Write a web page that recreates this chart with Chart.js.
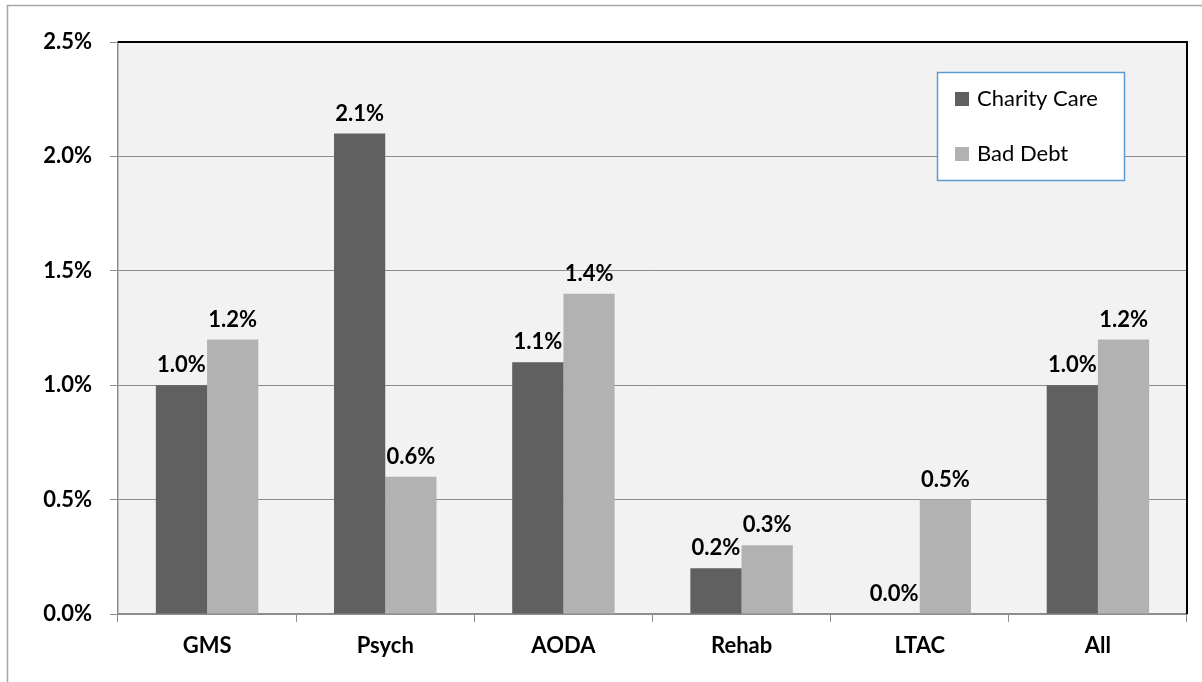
<!DOCTYPE html>
<html>
<head>
<meta charset="utf-8">
<script src="https://cdn.jsdelivr.net/npm/chart.js@4"></script>
<style>
  html, body { margin: 0; padding: 0; background: #fff; }
  #wrap { width: 1202px; height: 682px; }
</style>
</head>
<body>
<div id="wrap"><canvas id="grafico" width="1202" height="682"></canvas></div>
<script>
'use strict'

const categories = ['GMS', 'Psych', 'AODA', 'Rehab', 'LTAC', 'All'];
const charityCare = [1.0, 2.1, 1.1, 0.2, 0.0, 1.0];
const badDebt = [1.2, 0.6, 1.4, 0.3, 0.5, 1.2];
const yMin = 0, yMax = 2.5, yStep = 0.5;

const FONT = 'Lato, "Open Sans", sans-serif';

// frame, plot background and right border
const marco = {
  id: 'marco',
  beforeDraw(chart) {
    const {ctx, chartArea: a} = chart;
    ctx.save();
    ctx.strokeStyle = '#a6a6a6';
    ctx.lineWidth = 1.5;
    ctx.strokeRect(7.5, 5.5, 1400, 900);
    ctx.fillStyle = '#f2f2f2';
    ctx.fillRect(a.left, a.top, a.right - a.left, a.bottom - a.top);
    ctx.restore();
  },
  afterDraw(chart) {
    const {ctx, chartArea: a} = chart;
    ctx.save();
    ctx.strokeStyle = '#000';
    ctx.lineWidth = 2;
    ctx.beginPath();
    ctx.moveTo(a.left, a.top);
    ctx.lineTo(a.right, a.top);
    ctx.lineTo(a.right, a.bottom);
    ctx.stroke();
    ctx.restore();
  }
};

// value labels above bars
const etiquetas = {
  id: 'etiquetas',
  afterDatasetsDraw(chart) {
    const ctx = chart.ctx;
    ctx.save();
    ctx.font = 'bold 22px ' + FONT;
    ctx.fillStyle = '#000';
    ctx.textAlign = 'center';
    ctx.textBaseline = 'bottom';
    chart.data.datasets.forEach((ds, i) => {
      chart.getDatasetMeta(i).data.forEach((bar, j) => {
        ctx.fillText(ds.data[j].toFixed(1) + '%', bar.x, bar.y - 9);
      });
    });
    ctx.restore();
  }
};

// legend box inside the plot
const leyenda = {
  id: 'leyenda',
  afterDraw(chart) {
    const ctx = chart.ctx;
    const x = 937.5, y = 72.5, w = 187, h = 108;
    ctx.save();
    ctx.fillStyle = '#fff';
    ctx.fillRect(x, y, w, h);
    ctx.strokeStyle = '#5b9bd5';
    ctx.lineWidth = 1.5;
    ctx.strokeRect(x, y, w, h);
    ctx.font = '22px ' + FONT;
    ctx.textBaseline = 'middle';
    chart.data.datasets.forEach((ds, i) => {
      const cy = 99 + i * 55;
      ctx.fillStyle = ds.backgroundColor;
      ctx.fillRect(955, cy - 7, 14, 14);
      ctx.fillStyle = '#000';
      ctx.fillText(ds.label, 977, cy);
    });
    ctx.restore();
  }
};

const data = {
  labels: categories,
  datasets: [{
    label: 'Charity Care',
    data: charityCare,
    backgroundColor: '#606060'
  },
  {
    label: 'Bad Debt',
    data: badDebt,
    backgroundColor: '#b2b2b2'
  }]
};

const config = {
  type: 'bar',
  data: data,
  options: {
    responsive: false,
    animation: false,
    devicePixelRatio: 1,
    layout: { padding: { left: 0, top: 42, right: 15, bottom: 0 } },
    datasets: { bar: { categoryPercentage: 0.575, barPercentage: 1 } },
    plugins: { legend: { display: false }, tooltip: { enabled: false } },
    scales: {
      x: {
        afterFit(s) { s.height = 68; },
        grid: { display: true, drawOnChartArea: false, drawTicks: true, tickLength: 8, color: '#8c8c8c', offset: true },
        border: { color: '#8c8c8c', width: 1.5 },
        ticks: { color: '#000', padding: 11, font: { family: FONT, size: 22, weight: 'bold' } }
      },
      y: {
        min: yMin,
        max: yMax,
        afterFit(s) { s.width = 118; },
        grid: { color: '#8c8c8c', tickLength: 8, lineWidth: 1 },
        border: { color: '#8c8c8c', width: 1.5 },
        ticks: {
          stepSize: yStep,
          color: '#000',
          padding: 18,
          font: { family: FONT, size: 22, weight: 'bold' },
          callback: v => v.toFixed(1) + '%'
        }
      }
    }
  },
  plugins: [marco, etiquetas, leyenda]
};

let barras = new Chart(document.querySelector('#grafico'), config);
</script>
</body>
</html>
